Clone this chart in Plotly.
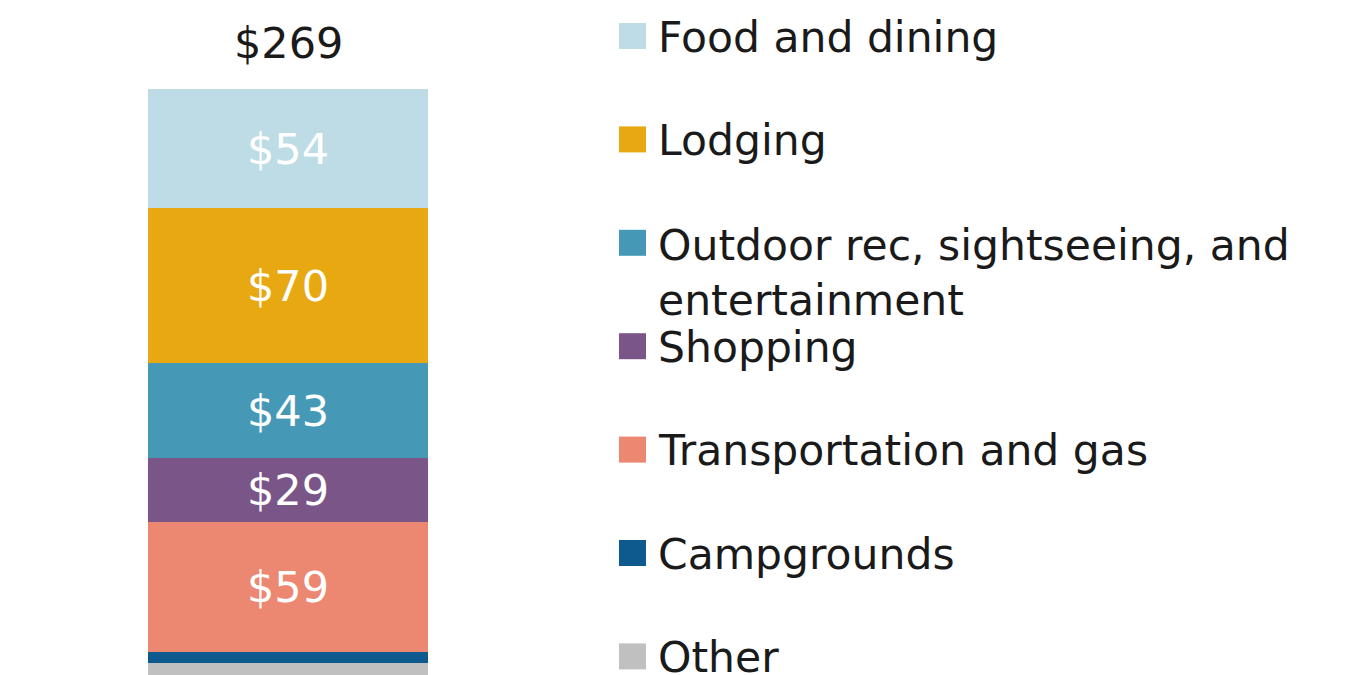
import plotly.graph_objects as go

# Spending categories, bottom of the stack first
categories = [
    "Other",
    "Campgrounds",
    "Transportation and gas",
    "Shopping",
    "Outdoor rec, sightseeing, and entertainment",
    "Lodging",
    "Food and dining",
]
values = [9, 5, 59, 29, 43, 70, 54]
colors = ["#C0C0C0", "#0E5A8E", "#EC8771", "#7A5688", "#4699B6", "#E8A811", "#BEDCE6"]
# Segments too thin to carry a label
unlabeled = {"Other", "Campgrounds"}

# Legend order (top to bottom) and the wrapped text for long names
legend_order = list(reversed(categories))
legend_text = {
    "Outdoor rec, sightseeing, and entertainment": "Outdoor rec, sightseeing, and<br>entertainment",
}

W, H = 1353, 675
FONT = "DejaVu Sans"
TEXT_COLOR = "#1a1a1a"
LABEL_SIZE = 43
LEGEND_SIZE = 42.5

fig = go.Figure()
for name, v, c in zip(categories, values, colors):
    fig.add_trace(go.Bar(
        x=[0], y=[v], name=name, width=1,
        marker=dict(color=c, line=dict(width=0)),
        text=[None if name in unlabeled else f"${v}"],
        textposition="inside", insidetextanchor="middle",
        constraintext="none",
        textfont=dict(family=FONT, size=LABEL_SIZE, color="white"),
        hoverinfo="skip", showlegend=False,
    ))

total = sum(values)
annotations = [dict(
    x=0, y=total, xref="x", yref="y", text=f"${total}",
    showarrow=False, xanchor="center", yanchor="bottom", yshift=19,
    font=dict(family=FONT, size=LABEL_SIZE, color=TEXT_COLOR),
)]

# Hand-drawn legend: swatch + label per category
shapes = []
row_top = 36          # centre of first legend row, px from top
row_step = 103.4      # spacing between rows, px
sw_x0, sw_x1, sw = 619, 646, 26
for i, name in enumerate(legend_order):
    cy = row_top + i * row_step
    c = colors[categories.index(name)]
    shapes.append(dict(
        type="rect", xref="paper", yref="paper",
        x0=sw_x0 / W, x1=sw_x1 / W,
        y0=1 - (cy + sw / 2) / H, y1=1 - (cy - sw / 2) / H,
        fillcolor=c, line=dict(width=0),
    ))
    txt = legend_text.get(name, name)
    n_lines = txt.count("<br>") + 1
    ty = cy + (n_lines - 1) * 29 + 1
    annotations.append(dict(
        x=656 / W, y=1 - ty / H, xref="paper", yref="paper",
        text=txt, showarrow=False, xanchor="left", yanchor="middle",
        align="left",
        font=dict(family=FONT, size=LEGEND_SIZE, color=TEXT_COLOR),
    ))

# Vertical scale: 2.21 px per dollar, zero sits just below the visible area
px_per = 2.21
zero_px = 683
fig.update_layout(
    width=W, height=H,
    margin=dict(l=0, r=0, t=0, b=0),
    paper_bgcolor="white", plot_bgcolor="white",
    barmode="stack", bargap=0,
    showlegend=False,
    xaxis=dict(domain=[148 / W, 428 / W], range=[-0.5, 0.5], visible=False, fixedrange=True),
    yaxis=dict(range=[(zero_px - H) / px_per, zero_px / px_per], visible=False, fixedrange=True),
    annotations=annotations, shapes=shapes,
    uniformtext=dict(minsize=LABEL_SIZE, mode="show"),
)

fig.write_html("out.html", config={"displayModeBar": False})
